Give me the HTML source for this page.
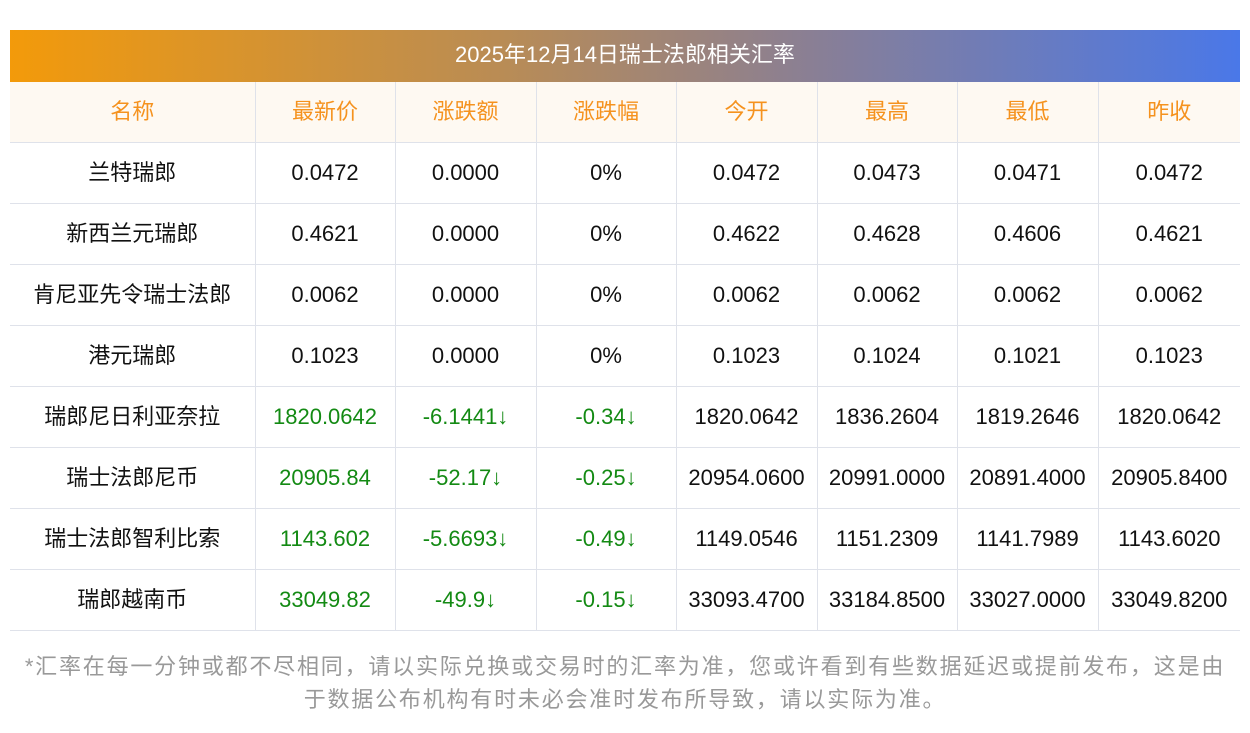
<!DOCTYPE html>
<html><head><meta charset="utf-8"><style>
body{margin:0;width:1250px;height:733px;background:#fff;font-family:"Liberation Sans","Noto Sans CJK SC",sans-serif;position:relative;overflow:hidden}
.bar{position:absolute;left:10px;top:30px;width:1230px;height:52px;background:linear-gradient(90deg,#f39a0a,#b98c55 40%,#8a7f94 65%,#4a78e8);color:#fff;font-size:22px;line-height:50px;text-align:center}
table{position:absolute;left:10px;top:82px;border-collapse:collapse;table-layout:fixed;width:1230px}
td,th{height:60px;border:1px solid #dfe2ea;text-align:center;font-size:22px;line-height:22px;color:#111;font-weight:normal;padding:0}
tr td:first-child,tr th:first-child{border-left:none}
tr td:last-child,tr th:last-child{border-right:none}
th{background:#fef9f2;color:#f5921e;border-top:none}
.g{color:#138a13}
.note{position:absolute;left:0;top:650px;width:1250px;text-align:center;color:#999;font-size:22px;line-height:33px;letter-spacing:1.8px}
</style></head><body>
<div class="bar">2025年12月14日瑞士法郎相关汇率</div>
<table>
<colgroup><col style="width:245px"><col style="width:140px"><col style="width:141px"><col style="width:140px"><col style="width:141px"><col style="width:140px"><col style="width:141px"><col style="width:142px"></colgroup>
<tr><th>名称</th><th>最新价</th><th>涨跌额</th><th>涨跌幅</th><th>今开</th><th>最高</th><th>最低</th><th>昨收</th></tr>
<tr><td>兰特瑞郎</td><td>0.0472</td><td>0.0000</td><td>0%</td><td>0.0472</td><td>0.0473</td><td>0.0471</td><td>0.0472</td></tr>
<tr><td>新西兰元瑞郎</td><td>0.4621</td><td>0.0000</td><td>0%</td><td>0.4622</td><td>0.4628</td><td>0.4606</td><td>0.4621</td></tr>
<tr><td>肯尼亚先令瑞士法郎</td><td>0.0062</td><td>0.0000</td><td>0%</td><td>0.0062</td><td>0.0062</td><td>0.0062</td><td>0.0062</td></tr>
<tr><td>港元瑞郎</td><td>0.1023</td><td>0.0000</td><td>0%</td><td>0.1023</td><td>0.1024</td><td>0.1021</td><td>0.1023</td></tr>
<tr><td>瑞郎尼日利亚奈拉</td><td class="g">1820.0642</td><td class="g">-6.1441↓</td><td class="g">-0.34↓</td><td>1820.0642</td><td>1836.2604</td><td>1819.2646</td><td>1820.0642</td></tr>
<tr><td>瑞士法郎尼币</td><td class="g">20905.84</td><td class="g">-52.17↓</td><td class="g">-0.25↓</td><td>20954.0600</td><td>20991.0000</td><td>20891.4000</td><td>20905.8400</td></tr>
<tr><td>瑞士法郎智利比索</td><td class="g">1143.602</td><td class="g">-5.6693↓</td><td class="g">-0.49↓</td><td>1149.0546</td><td>1151.2309</td><td>1141.7989</td><td>1143.6020</td></tr>
<tr><td>瑞郎越南币</td><td class="g">33049.82</td><td class="g">-49.9↓</td><td class="g">-0.15↓</td><td>33093.4700</td><td>33184.8500</td><td>33027.0000</td><td>33049.8200</td></tr>
</table>
<div class="note">*汇率在每一分钟或都不尽相同，请以实际兑换或交易时的汇率为准，您或许看到有些数据延迟或提前发布，这是由<br>于数据公布机构有时未必会准时发布所导致，请以实际为准。</div>
</body></html>
